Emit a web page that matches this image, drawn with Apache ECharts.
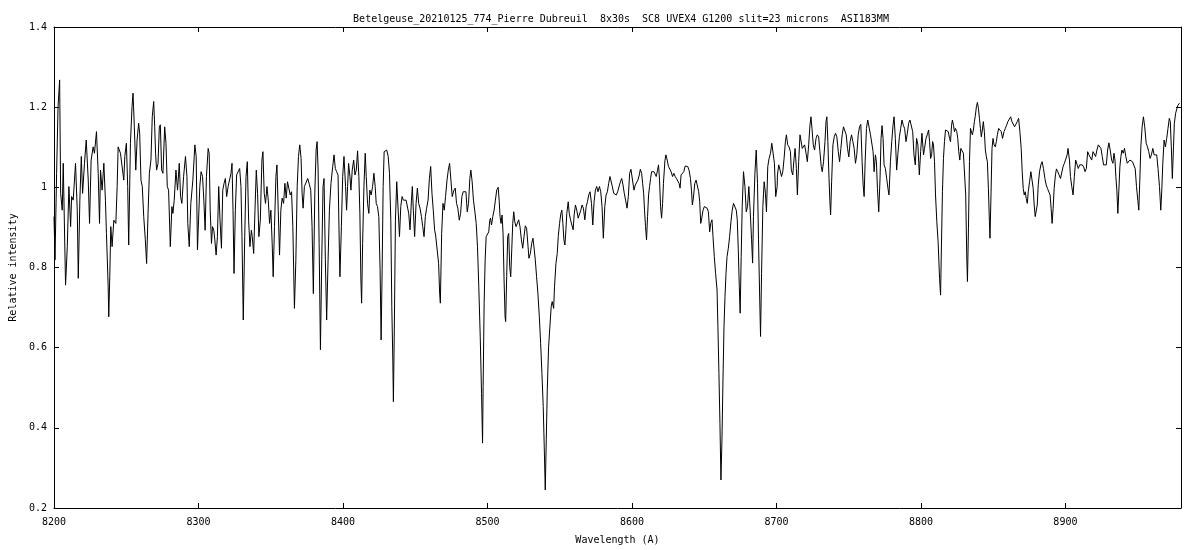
<!DOCTYPE html>
<html>
<head>
<meta charset="utf-8">
<script src="https://cdn.jsdelivr.net/npm/echarts@6/dist/echarts.min.js"></script>
<style>
html,body{margin:0;padding:0;background:#fff;}
#chart{width:1200px;height:550px;}
</style>
</head>
<body>
<div id="chart"></div>
<script>
// Title and axis texts
const chartTitle = 'Betelgeuse_20210125_774_Pierre Dubreuil  8x30s  SC8 UVEX4 G1200 slit=23 microns  ASI183MM';
const xTitle = 'Wavelength (A)';
const yTitle = 'Relative intensity';
const xRange = [8200, 8980];
const yRange = [0.2, 1.4];

// Spectrum: [wavelength (A), relative intensity]
const spectrum = [
[8200.0,0.927],[8200.7,0.819],[8201.8,1.035],[8202.8,1.201],[8203.9,1.268],[8204.6,0.985],[8205.7,0.943],[8206.4,1.060],
[8208.0,0.756],[8209.2,0.852],[8210.3,1.002],[8211.5,0.902],[8212.2,0.977],[8213.3,0.968],[8214.9,1.060],[8216.1,0.943],
[8216.8,0.773],[8217.9,0.968],[8218.9,1.077],[8219.8,0.985],[8221.1,1.060],[8222.3,1.118],[8223.7,1.018],[8224.6,0.910],
[8225.7,1.068],[8227.1,1.101],[8228.0,1.085],[8229.4,1.139],[8230.6,1.035],[8231.5,0.910],[8232.2,1.043],[8233.3,0.993],
[8234.5,1.060],[8235.6,0.968],[8236.3,0.885],[8237.5,0.752],[8237.9,0.677],[8238.6,0.777],[8239.3,0.902],[8240.2,0.852],
[8241.4,0.918],[8242.8,0.910],[8243.7,1.002],[8244.4,1.101],[8246.0,1.085],[8247.1,1.085],[8248.3,1.018],[8249.0,1.077],
[8250.1,1.110],[8251.0,1.002],[8251.7,0.856],[8252.9,1.110],[8254.0,1.201],[8254.7,1.235],[8255.6,1.151],[8256.6,1.043],
[8257.5,1.118],[8258.6,1.160],[8259.3,1.135],[8260.2,1.018],[8261.1,1.002],[8262.1,0.927],[8263.2,0.869],[8264.1,0.810],
[8265.1,0.935],[8266.0,1.035],[8267.1,1.068],[8268.0,1.176],[8269.0,1.214],[8269.7,1.151],[8270.3,1.085],[8271.0,1.043],
[8272.0,1.060],[8272.9,1.151],[8273.6,1.156],[8274.5,1.043],[8275.4,1.035],[8276.6,1.151],[8277.5,1.110],[8278.4,1.002],
[8279.3,0.993],[8280.5,0.852],[8281.6,0.952],[8282.3,0.935],[8283.2,0.968],[8284.4,1.043],[8285.5,0.993],[8286.7,1.060],
[8287.6,0.977],[8288.5,0.960],[8289.7,1.027],[8291.0,1.077],[8292.0,1.027],[8292.6,0.910],[8293.6,0.852],[8294.7,0.960],
[8296.1,1.018],[8297.5,1.106],[8298.4,1.077],[8299.3,0.844],
[8299.8,0.893],[8300.9,1.002],[8301.8,1.039],[8302.8,1.027],[8303.7,0.968],[8304.6,0.893],[8305.5,1.027],[8306.7,1.097],
[8307.4,1.085],[8308.1,0.943],[8309.0,0.860],[8309.7,0.902],[8310.6,0.893],[8311.3,0.869],[8312.2,0.831],[8313.1,0.877],
[8314.0,1.002],[8314.9,0.918],[8315.9,0.848],[8316.8,0.993],[8317.7,1.010],[8318.6,1.022],[8319.5,0.977],[8320.5,1.002],
[8321.6,0.998],[8322.5,1.035],[8323.2,1.060],[8323.9,0.943],[8324.6,0.785],[8325.5,0.943],[8326.4,1.031],[8327.4,1.035],
[8328.5,1.047],[8329.4,1.002],[8330.1,0.877],[8331.0,0.669],[8332.0,0.877],[8332.9,1.027],[8333.8,1.064],[8334.7,0.918],
[8335.6,0.852],[8336.6,0.893],[8337.2,0.877],[8338.2,0.835],[8339.1,0.943],[8340.0,1.043],[8340.9,0.985],[8341.8,0.877],
[8342.8,0.918],[8343.9,1.068],[8344.6,1.089],[8345.5,0.985],[8346.4,0.960],[8347.4,1.002],[8348.3,0.968],[8349.2,0.910],
[8350.1,0.943],[8351.0,0.860],[8351.7,0.777],[8352.6,0.902],[8353.6,1.027],[8354.3,1.056],[8355.2,0.943],[8356.1,0.831],
[8357.0,0.943],[8357.9,0.973],[8358.9,0.960],[8359.8,1.010],[8360.7,0.973],[8361.6,1.014],[8362.5,1.010],[8363.5,0.981],
[8364.4,0.989],[8365.3,0.902],[8366.4,0.698],[8367.4,0.819],[8368.3,1.002],[8369.2,1.077],[8370.1,1.106],[8371.0,1.072],
[8371.7,0.985],[8372.4,0.948],[8373.3,1.002],[8374.5,1.002],[8375.6,1.022],[8376.8,1.006],[8377.7,0.993],[8378.6,0.902],
[8379.5,0.735],[8380.5,0.985],[8381.4,1.093],[8382.1,1.114],[8382.8,1.043],[8383.5,0.860],[8384.4,0.595],[8385.3,0.819],
[8386.2,1.002],[8386.9,1.022],[8387.8,0.819],[8388.7,0.669],[8389.7,0.819],[8390.6,0.943],[8391.7,1.010],[8392.9,1.052],
[8393.8,1.081],[8394.7,1.047],[8395.6,1.039],[8396.6,1.031],[8397.5,0.844],[8397.9,0.777],[8398.9,0.902],[8399.8,1.027],
[8400.7,1.077],
[8401.8,1.002],[8402.5,0.943],[8403.2,1.002],[8403.9,1.060],[8404.8,1.027],[8405.5,0.993],[8406.4,1.043],[8407.4,1.068],
[8408.3,1.031],[8409.2,1.043],[8410.1,1.091],[8411.0,1.027],[8411.7,0.935],[8412.4,0.769],[8412.9,0.711],[8413.6,0.860],
[8414.5,1.002],[8415.4,1.085],[8416.1,1.027],[8417.0,0.960],[8417.9,0.935],[8418.6,0.993],[8419.5,0.981],[8420.5,1.002],
[8421.4,1.035],[8422.3,1.002],[8423.0,0.960],[8423.9,0.952],[8424.8,0.927],[8425.7,0.794],[8426.4,0.619],[8427.1,0.794],
[8427.8,1.002],[8428.5,1.089],[8429.4,1.093],[8430.3,1.093],[8431.3,1.077],[8432.2,1.035],[8433.1,0.918],[8433.8,0.702],
[8434.5,0.569],[8434.9,0.465],[8435.6,0.669],[8436.3,0.918],[8437.2,1.014],[8438.2,0.943],[8439.1,0.877],[8440.0,0.952],
[8440.9,0.977],[8441.8,0.968],[8442.8,0.968],[8443.7,0.968],[8444.6,0.964],[8445.5,0.935],[8446.4,0.894],[8447.4,0.968],
[8448.0,1.002],[8448.7,0.943],[8449.6,0.877],[8450.6,0.960],[8451.5,0.998],[8452.4,0.960],[8453.3,0.948],[8454.3,0.927],
[8455.2,0.902],[8456.1,0.877],[8457.0,0.927],[8457.9,0.948],[8458.9,0.968],[8459.8,1.022],[8460.7,1.052],[8461.6,0.985],
[8462.5,0.943],[8463.4,0.894],[8464.1,0.881],[8465.3,0.881],[8466.2,0.810],[8466.9,0.736],[8467.4,0.711],[8468.3,0.885],
[8469.2,0.960],[8470.1,0.943],[8471.0,0.977],[8472.0,1.018],[8472.9,1.043],[8473.8,1.060],[8474.7,1.018],[8475.6,0.977],
[8476.8,0.993],[8477.7,0.998],[8478.6,0.960],[8479.5,0.948],[8480.5,0.918],[8481.4,0.935],[8482.3,0.977],[8483.2,0.989],
[8484.1,0.993],[8485.1,0.989],[8486.0,0.939],[8486.9,0.960],[8487.8,1.022],[8488.5,1.043],[8489.4,1.014],[8490.3,0.968],
[8491.3,0.939],[8492.2,0.910],[8493.1,0.852],[8494.0,0.752],[8495.0,0.627],[8495.9,0.486],[8496.6,0.362],[8497.0,0.503],
[8497.7,0.711],[8498.4,0.819],[8499.1,0.877],[8500.0,0.881],[8500.9,0.889],[8501.6,0.918],
[8502.1,0.923],[8502.8,0.906],[8503.7,0.927],[8504.6,0.943],[8505.5,0.968],[8506.4,0.993],[8507.4,1.000],[8508.1,0.968],
[8508.7,0.927],[8509.4,0.910],[8510.1,0.931],[8510.8,0.885],[8511.5,0.769],[8512.2,0.677],[8512.6,0.665],[8513.3,0.777],
[8514.0,0.877],[8514.7,0.885],[8515.4,0.802],[8516.1,0.777],[8516.8,0.844],[8517.5,0.910],[8518.2,0.939],[8518.9,0.914],
[8519.8,0.902],[8520.7,0.898],[8521.6,0.919],[8522.5,0.902],[8523.5,0.869],[8524.4,0.848],[8525.3,0.877],[8526.2,0.904],
[8527.1,0.898],[8528.1,0.852],[8528.7,0.823],[8529.7,0.835],[8530.6,0.860],[8531.5,0.873],[8532.4,0.844],[8533.1,0.819],
[8534.0,0.777],[8534.9,0.736],[8535.9,0.677],[8536.8,0.611],[8537.7,0.536],[8538.6,0.453],[8539.3,0.353],[8540.0,0.245],
[8540.7,0.370],[8541.4,0.494],[8542.3,0.602],[8543.2,0.652],[8544.1,0.702],[8544.8,0.715],[8545.8,0.698],[8546.4,0.752],
[8547.4,0.810],[8548.3,0.835],[8549.0,0.877],[8549.9,0.910],[8550.8,0.935],[8551.5,0.943],[8552.2,0.910],[8552.9,0.869],
[8553.6,0.856],[8554.3,0.894],[8554.9,0.935],[8555.9,0.964],[8556.6,0.935],[8557.5,0.919],[8558.4,0.906],[8559.3,0.894],
[8560.0,0.931],[8560.9,0.956],[8561.8,0.943],[8562.8,0.923],[8563.7,0.919],[8564.6,0.943],[8565.5,0.956],[8566.4,0.948],
[8567.4,0.919],[8568.3,0.952],[8569.2,0.964],[8570.1,0.981],[8571.0,0.989],[8572.0,0.960],[8572.9,0.906],[8573.8,0.964],
[8574.7,0.993],[8575.6,1.002],[8576.5,0.989],[8577.5,1.002],[8578.4,0.989],[8579.3,0.952],[8580.2,0.873],[8581.2,0.952],
[8582.1,0.981],[8583.0,0.989],[8583.9,1.010],[8584.8,1.027],[8585.5,1.028],[8586.4,1.002],[8587.4,0.985],[8588.3,0.989],
[8589.2,0.981],[8590.1,0.989],[8591.0,0.993],[8592.0,1.014],[8592.9,1.022],[8593.8,1.006],[8594.7,0.985],[8595.6,0.968],
[8596.6,0.948],[8597.5,0.977],[8598.4,1.035],[8599.3,1.045],[8600.2,1.042],[8601.2,0.998],
[8601.4,0.993],[8602.3,1.006],[8603.2,1.010],[8604.1,1.018],[8605.1,1.031],[8605.8,1.045],[8606.7,1.035],[8607.4,1.010],
[8608.1,0.985],[8608.7,0.943],[8609.4,0.902],[8610.1,0.869],[8610.8,0.927],[8611.5,0.981],[8612.2,1.002],[8612.9,1.022],
[8613.6,1.039],[8614.5,1.035],[8615.2,1.039],[8616.1,1.035],[8616.8,1.027],[8617.7,1.043],[8618.4,1.056],[8619.1,1.018],
[8619.8,0.952],[8620.5,0.923],[8621.2,0.960],[8621.8,1.010],[8622.8,1.066],[8623.5,1.081],[8624.4,1.068],[8625.3,1.052],
[8626.2,1.056],[8627.1,1.039],[8628.1,1.027],[8629.0,1.035],[8629.9,1.027],[8630.8,1.022],[8631.7,1.018],[8632.6,1.010],
[8633.3,0.998],[8634.0,1.031],[8634.9,1.035],[8635.9,1.039],[8636.8,1.053],[8637.7,1.056],[8638.6,1.052],[8639.5,1.043],
[8640.5,1.022],[8641.2,0.993],[8641.8,0.956],[8642.5,0.973],[8643.5,1.010],[8644.4,1.018],[8645.3,1.014],[8646.2,0.989],
[8646.9,0.964],[8647.6,0.910],[8648.3,0.923],[8649.2,0.943],[8650.1,0.952],[8651.0,0.956],[8652.0,0.948],[8652.9,0.939],
[8653.8,0.889],[8654.5,0.910],[8655.4,0.919],[8656.1,0.877],[8657.0,0.827],[8657.9,0.785],[8658.9,0.744],[8659.5,0.652],
[8660.2,0.536],[8660.9,0.411],[8661.6,0.270],[8662.3,0.370],[8663.0,0.519],[8663.7,0.652],[8664.4,0.727],[8665.1,0.785],
[8665.8,0.827],[8666.7,0.848],[8667.6,0.877],[8668.5,0.914],[8669.4,0.943],[8670.3,0.960],[8671.3,0.956],[8672.2,0.943],
[8672.9,0.919],[8673.6,0.844],[8674.3,0.752],[8674.9,0.686],[8675.6,0.827],[8676.3,0.952],[8677.2,1.039],[8678.2,1.002],
[8679.1,0.939],[8680.0,0.952],[8680.9,1.002],[8681.8,0.943],[8682.8,0.869],[8683.5,0.811],[8684.1,0.927],[8685.1,1.035],
[8686.0,1.093],[8686.9,1.010],[8687.6,0.869],[8688.3,0.744],[8689.0,0.628],[8689.7,0.785],[8690.6,0.952],[8691.5,1.014],
[8692.4,0.985],[8693.1,0.939],[8694.0,1.052],[8694.9,1.072],[8695.9,1.085],[8696.8,1.110],[8697.7,1.114],[8698.6,1.060],
[8699.5,0.977],[8700.5,1.002],
[8700.7,1.031],[8701.6,1.056],[8702.5,1.043],[8703.5,1.027],[8704.4,1.039],[8705.3,1.072],[8706.2,1.114],[8706.9,1.131],
[8707.8,1.106],[8708.7,1.101],[8709.7,1.089],[8710.3,1.043],[8711.3,1.031],[8712.2,1.072],[8712.9,1.097],[8713.8,1.047],
[8714.5,0.981],[8715.4,1.064],[8716.3,1.131],[8717.0,1.135],[8717.9,1.097],[8718.9,1.101],[8719.5,1.106],[8720.5,1.085],
[8721.4,1.064],[8722.3,1.106],[8723.2,1.155],[8723.9,1.176],[8724.6,1.147],[8725.5,1.106],[8726.4,1.093],[8727.4,1.122],
[8728.3,1.131],[8729.2,1.126],[8730.1,1.089],[8731.0,1.052],[8731.7,1.039],[8732.6,1.064],[8733.6,1.114],[8734.3,1.164],
[8734.9,1.176],[8735.6,1.114],[8736.3,1.031],[8737.0,0.964],[8737.5,0.931],[8738.2,1.014],[8739.1,1.106],[8740.0,1.126],
[8740.9,1.135],[8741.8,1.126],[8742.8,1.089],[8743.7,1.064],[8744.6,1.097],[8745.5,1.131],[8746.4,1.151],[8747.4,1.154],
[8748.3,1.131],[8749.2,1.097],[8750.1,1.076],[8751.0,1.114],[8752.0,1.131],[8752.9,1.114],[8753.8,1.097],[8754.7,1.060],
[8755.6,1.081],[8756.6,1.131],[8757.5,1.151],[8758.4,1.157],[8759.3,1.064],[8760.0,1.006],[8760.7,0.977],[8761.4,1.064],
[8762.3,1.147],[8763.2,1.168],[8764.1,1.164],[8765.1,1.131],[8766.0,1.131],[8766.9,1.089],[8767.6,1.039],[8768.5,1.081],
[8769.2,1.064],[8769.9,0.997],[8770.8,0.939],[8771.7,1.022],[8772.4,1.122],[8773.1,1.154],[8773.8,1.122],[8774.5,1.056],
[8775.4,1.047],[8776.3,1.022],[8777.2,0.997],[8777.9,0.981],[8778.9,1.064],[8779.8,1.114],[8780.7,1.155],[8781.4,1.176],
[8782.3,1.122],[8783.2,1.043],[8784.1,1.085],[8785.1,1.126],[8786.0,1.147],[8786.9,1.168],[8787.8,1.155],[8788.7,1.147],
[8789.7,1.114],[8790.6,1.135],[8791.5,1.160],[8792.4,1.168],[8793.3,1.172],[8794.3,1.139],[8795.2,1.081],[8796.1,1.056],
[8797.0,1.122],[8797.9,1.106],[8798.9,1.031],[8799.8,1.089],[8800.7,1.135],
[8801.8,1.081],[8802.5,1.097],[8803.5,1.122],[8804.4,1.131],[8805.3,1.143],[8806.0,1.114],[8806.7,1.072],[8807.4,1.081],
[8808.1,1.114],[8808.7,1.106],[8809.4,1.064],[8810.1,0.981],[8811.0,0.914],[8811.9,0.864],[8812.9,0.773],[8813.6,0.731],
[8814.2,0.856],[8814.9,0.989],[8815.6,1.072],[8816.3,1.114],[8817.0,1.143],[8817.9,1.147],[8818.9,1.139],[8819.8,1.122],
[8820.5,1.114],[8821.2,1.155],[8821.8,1.168],[8822.5,1.155],[8823.2,1.139],[8823.9,1.147],[8824.8,1.139],[8825.5,1.122],
[8826.2,1.089],[8826.9,1.068],[8827.6,1.097],[8828.5,1.097],[8829.4,1.085],[8830.3,1.081],[8831.0,0.981],[8831.7,0.831],
[8832.2,0.765],[8832.9,0.898],[8833.6,1.064],[8834.3,1.147],[8834.9,1.151],[8835.6,1.131],[8836.3,1.143],[8837.0,1.164],
[8837.7,1.180],[8838.4,1.201],[8839.1,1.212],[8839.8,1.197],[8840.5,1.172],[8841.2,1.147],[8841.8,1.126],[8842.5,1.143],
[8843.2,1.164],[8843.9,1.139],[8844.6,1.093],[8845.3,1.076],[8846.0,1.064],[8846.7,0.997],[8847.4,0.914],[8847.8,0.873],
[8848.5,0.981],[8849.2,1.097],[8849.9,1.122],[8850.6,1.106],[8851.5,1.101],[8852.2,1.114],[8852.9,1.131],[8853.8,1.147],
[8854.7,1.151],[8855.6,1.139],[8856.5,1.122],[8857.5,1.139],[8858.4,1.147],[8859.3,1.155],[8860.2,1.164],[8861.2,1.168],
[8862.1,1.176],[8863.0,1.164],[8863.9,1.160],[8864.8,1.151],[8865.8,1.155],[8866.7,1.164],[8867.6,1.172],[8868.5,1.139],
[8869.4,1.097],[8870.1,1.039],[8870.8,0.997],[8871.5,0.981],[8872.2,0.989],[8872.9,0.972],[8873.6,0.960],[8874.3,0.989],
[8875.2,1.014],[8876.1,1.039],[8877.0,1.043],[8877.7,0.997],[8878.4,0.956],[8879.1,0.927],[8879.8,0.923],[8880.5,0.956],
[8881.2,1.006],[8882.1,1.039],[8883.0,1.056],[8883.9,1.064],[8884.8,1.047],[8885.8,1.022],[8886.7,1.006],[8887.6,0.997],
[8888.5,0.993],[8889.4,0.981],[8890.1,0.948],[8890.8,0.910],[8891.5,0.948],[8892.2,0.997],[8893.1,1.031],[8893.8,1.046],
[8894.7,1.039],[8895.6,1.031],[8896.6,1.022],[8897.5,1.018],[8898.4,1.052],[8899.3,1.060],[8900.2,1.064],[8901.2,1.081],
[8901.8,1.097],
[8902.8,1.068],[8903.5,1.027],[8904.4,1.002],[8905.3,0.981],[8906.2,1.027],[8907.1,1.068],[8908.1,1.064],[8908.9,1.047],
[8909.9,1.056],[8910.8,1.053],[8911.7,1.056],[8912.6,1.051],[8913.6,1.039],[8914.5,1.047],[8915.4,1.089],[8916.3,1.081],
[8917.2,1.085],[8918.2,1.068],[8919.1,1.089],[8920.0,1.093],[8920.9,1.077],[8921.8,1.093],[8922.8,1.106],[8923.7,1.110],
[8924.6,1.097],[8925.5,1.077],[8926.4,1.056],[8927.4,1.053],[8928.3,1.056],[8929.2,1.093],[8930.1,1.111],[8931.0,1.093],
[8932.0,1.068],[8932.9,1.060],[8933.6,1.085],[8934.3,1.068],[8934.9,1.027],[8935.6,0.993],[8936.3,0.935],[8937.0,0.993],
[8937.7,1.051],[8938.4,1.077],[8939.1,1.093],[8940.0,1.085],[8940.9,1.097],[8941.8,1.077],[8942.8,1.060],[8943.7,1.064],
[8944.6,1.068],[8945.5,1.068],[8946.4,1.064],[8947.4,1.068],[8948.3,1.047],[8949.2,1.002],[8950.1,0.968],[8950.8,0.943],
[8951.5,1.018],[8952.2,1.101],[8953.1,1.151],[8954.0,1.176],[8954.9,1.151],[8955.9,1.110],[8956.8,1.101],[8957.7,1.089],
[8958.6,1.072],[8959.5,1.081],[8960.5,1.097],[8961.4,1.081],[8962.3,1.077],[8963.2,1.081],[8964.1,1.047],[8965.1,1.002],
[8966.0,0.943],[8966.7,0.993],[8967.4,1.060],[8968.3,1.118],[8969.2,1.101],[8970.1,1.122],[8971.0,1.147],[8971.9,1.172],
[8972.6,1.164],[8973.3,1.101],[8974.0,1.022],[8974.8,1.101],[8975.4,1.160],[8976.3,1.185],[8977.2,1.197],[8977.9,1.205],
[8979.0,1.210]
];

const FONT = 'DejaVu Sans Mono';
const chart = echarts.init(document.getElementById('chart'), null, {renderer: 'canvas'});

const axisCommon = {
  axisLine: {show: true, onZero: false, lineStyle: {color: '#000', width: 1}},
  axisTick: {show: true, inside: true, length: 5, lineStyle: {color: '#000', width: 1}},
  splitLine: {show: false}
};

chart.setOption({
  animation: false,
  backgroundColor: '#fff',
  title: {
    text: chartTitle,
    left: 616, top: 9, textAlign: 'center',
    textStyle: {fontFamily: FONT, fontSize: 10, fontWeight: 'normal', color: '#000'}
  },
  grid: {left: 52, right: 19, top: 27, bottom: 42, containLabel: false},
  xAxis: [
    Object.assign({
      type: 'value', position: 'bottom', min: xRange[0], max: xRange[1], interval: 100,
      name: xTitle, nameLocation: 'middle', nameGap: 27,
      nameTextStyle: {fontFamily: FONT, fontSize: 10, color: '#000'},
      axisLabel: {margin: 9, fontFamily: FONT, fontSize: 10, color: '#000',
        formatter: v => (v % 100 === 0 ? String(v) : '')}
    }, axisCommon),
    Object.assign({
      type: 'value', position: 'top', min: xRange[0], max: xRange[1], interval: 100,
      axisLabel: {show: false}
    }, axisCommon)
  ],
  yAxis: [
    Object.assign({
      type: 'value', position: 'left', min: yRange[0], max: yRange[1], interval: 0.2,
      name: yTitle, nameLocation: 'middle', nameGap: 36,
      nameTextStyle: {fontFamily: FONT, fontSize: 10, color: '#000'},
      axisLabel: {margin: 7, fontFamily: FONT, fontSize: 10, color: '#000'}
    }, axisCommon),
    Object.assign({
      type: 'value', position: 'right', min: yRange[0], max: yRange[1], interval: 0.2,
      axisLabel: {show: false}
    }, axisCommon)
  ],
  series: [{
    type: 'line',
    xAxisIndex: 0, yAxisIndex: 0,
    data: spectrum,
    showSymbol: false,
    symbol: 'none',
    lineStyle: {color: '#000', width: 1},
    silent: true
  }]
});
</script>
</body>
</html>
